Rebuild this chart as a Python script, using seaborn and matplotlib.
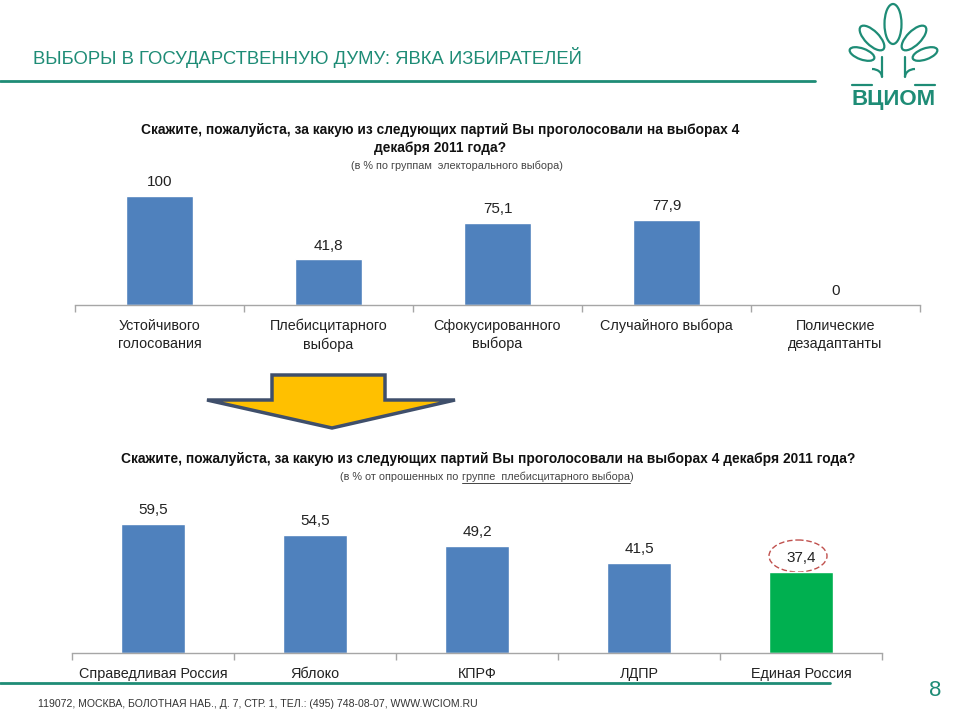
import matplotlib
matplotlib.use("Agg")
import matplotlib.pyplot as plt
import seaborn as sns
import pandas as pd
from matplotlib.patches import Polygon, Ellipse, Arc
from matplotlib import font_manager

# ---------------- data ----------------
top_categories = ["Устойчивого\nголосования", "Плебисцитарного\nвыбора",
                  "Сфокусированного\nвыбора", "Случайного выбора",
                  "Полические\nдезадаптанты"]
top_values = [100, 41.8, 75.1, 77.9, 0]

bottom_categories = ["Справедливая Россия", "Яблоко", "КПРФ", "ЛДПР", "Единая Россия"]
bottom_values = [59.5, 54.5, 49.2, 41.5, 37.4]

title = "ВЫБОРЫ В ГОСУДАРСТВЕННУЮ ДУМУ: ЯВКА ИЗБИРАТЕЛЕЙ"
q_top = "Скажите, пожалуйста, за какую из следующих партий Вы проголосовали на выборах 4\nдекабря 2011 года?"
sub_top = "(в % по группам  электорального выбора)"
q_bottom = "Скажите, пожалуйста, за какую из следующих партий Вы проголосовали на выборах 4 декабря 2011 года?"
sub_bottom_parts = ["(в % от опрошенных по ", "группе  плебисцитарного выбора", ")"]
footer = "119072, МОСКВА, БОЛОТНАЯ НАБ., Д. 7, СТР. 1, ТЕЛ.: (495) 748-08-07, WWW.WCIOM.RU"

BLUE = "#4F81BD"
GREEN = "#00B050"
TEAL = "#1E8C76"

sns.set_theme(style="white")
plt.rcParams["font.family"] = ["Liberation Sans", "DejaVu Sans"]

# look for a condensed family; otherwise fall back to Liberation Sans
NARROW = None
for fam in ["Liberation Sans Narrow", "DejaVu Sans Condensed"]:
    try:
        font_manager.findfont(font_manager.FontProperties(family=fam),
                              fallback_to_default=False)
        NARROW = fam
        break
    except Exception:
        pass
if NARROW is None:
    NARROW_FAM = ["Liberation Sans", "DejaVu Sans"]
    narrow_scale = 0.86
    narrow_stretch = "normal"
else:
    NARROW_FAM = [NARROW, "DejaVu Sans"]
    narrow_scale = 1.0
    narrow_stretch = "condensed"

fig = plt.figure(figsize=(9.6, 7.2), dpi=100)
fig.patch.set_facecolor("white")

deco = fig.add_axes([0, 0, 1, 1], zorder=0)
deco.set_xlim(0, 960)
deco.set_ylim(720, 0)
deco.axis("off")


def draw_bars(rect, cats, vals, colors, ymax):
    ax = fig.add_axes(rect, zorder=2)
    ax.patch.set_alpha(0)
    df = pd.DataFrame({"cat": cats, "val": vals})
    sns.barplot(data=df, x="cat", y="val", hue="cat", palette=colors,
                legend=False, width=0.4, ax=ax, saturation=1)
    ax.set_ylim(0, ymax)
    ax.set_xlim(-0.5, len(cats) - 0.5)
    ax.set_xlabel("")
    ax.set_ylabel("")
    ax.set_yticks([])
    for s in ["top", "left", "right"]:
        ax.spines[s].set_visible(False)
    ax.spines["bottom"].set_color("#A6A6A6")
    ax.spines["bottom"].set_linewidth(1.0)
    ax.set_xticks(range(len(cats)))
    ax.set_xticklabels(cats, fontsize=10.4, color="#222222", linespacing=1.35)
    ax.tick_params(axis="x", which="major", length=0, pad=10)
    ax.set_xticks([i - 0.5 for i in range(len(cats) + 1)], minor=True)
    ax.tick_params(axis="x", which="minor", length=5, color="#A6A6A6",
                   direction="out", bottom=True)
    for i, v in enumerate(vals):
        lab = ("%g" % v).replace(".", ",")
        ax.annotate(lab, (i, v), xytext=(0, 7), textcoords="offset points",
                    ha="center", va="baseline", fontsize=11, color="#222222")
    return ax


ax1 = draw_bars([75 / 960, 1 - 305 / 720, 845 / 960, 140 / 720],
                top_categories, top_values, [BLUE] * 5, 128.4)
ax2 = draw_bars([72 / 960, 1 - 653 / 720, 810 / 960, 163 / 720],
                bottom_categories, bottom_values, [BLUE] * 4 + [GREEN], 75.1)

deco.add_patch(Ellipse((798, 556), 58, 32, fill=False, edgecolor="#C0504D",
                       linestyle=(0, (4, 2)), linewidth=1.0, zorder=5))

# title and lines
deco.text(33, 58, title, fontsize=15.5 * narrow_scale, color=TEAL,
          family=NARROW_FAM, stretch=narrow_stretch, ha="left", va="center")
deco.plot([0, 815], [81, 81], color=TEAL, lw=2)
deco.plot([0, 830], [683, 683], color=TEAL, lw=2)
deco.text(935, 690, "8", fontsize=16, color=TEAL, ha="center", va="center")
deco.text(38, 704, footer, fontsize=7.6, color="#333333", ha="left",
          va="center")

# questions
deco.text(440, 139, q_top, fontsize=11.5 * narrow_scale, fontweight="bold",
          color="#111111", family=NARROW_FAM, stretch=narrow_stretch,
          ha="center", va="center", linespacing=1.45)
deco.text(457, 166, sub_top, fontsize=7.8, color="#444444", ha="center",
          va="center")
deco.text(488, 459, q_bottom, fontsize=11.5 * narrow_scale, fontweight="bold",
          color="#111111", family=NARROW_FAM, stretch=narrow_stretch,
          ha="center", va="center")

# bottom subtitle with underlined part
fig.canvas.draw()
renderer = fig.canvas.get_renderer()
widths = []
for p in sub_bottom_parts:
    t = deco.text(0, 0, p, fontsize=7.8)
    widths.append(t.get_window_extent(renderer).width)
    t.remove()
x = 487 - sum(widths) / 2
for i, p in enumerate(sub_bottom_parts):
    deco.text(x, 477, p, fontsize=7.8, color="#444444", ha="left", va="center")
    if i == 1:
        deco.plot([x, x + widths[i]], [483, 483], color="#444444", lw=0.7)
    x += widths[i]

# arrow
arrow_pts = [(207, 400), (272, 400), (272, 375), (385, 375), (385, 400),
             (455, 400), (332, 428)]
deco.add_patch(Polygon(arrow_pts, closed=True, facecolor="#FFC000",
                       edgecolor="#3F4F6B", linewidth=2.5, joinstyle="miter"))

# logo
leaf_kw = dict(fill=False, edgecolor=TEAL, linewidth=1.6)
deco.add_patch(Ellipse((893, 24), 17, 40, angle=0, **leaf_kw))
deco.add_patch(Ellipse((872, 38), 14, 32, angle=-45, **leaf_kw))
deco.add_patch(Ellipse((914, 38), 14, 32, angle=45, **leaf_kw))
deco.add_patch(Ellipse((862, 54), 11, 26, angle=-70, **leaf_kw))
deco.add_patch(Ellipse((925, 54), 11, 26, angle=70, **leaf_kw))
deco.plot([882, 882], [57, 77], color=TEAL, lw=1.6)
deco.plot([905, 905], [57, 77], color=TEAL, lw=1.6)
deco.add_patch(Arc((872, 77), 20, 16, theta1=270, theta2=360, color=TEAL, lw=1.6))
deco.add_patch(Arc((915, 77), 20, 16, theta1=180, theta2=270, color=TEAL, lw=1.6))
deco.plot([852, 872], [85, 85], color=TEAL, lw=1.6)
deco.plot([915, 935], [85, 85], color=TEAL, lw=1.6)
deco.text(894, 100, "ВЦИОМ", fontsize=16, fontweight="bold", color=TEAL,
          ha="center", va="center")

fig.savefig("out.png", dpi=100, facecolor="white")
